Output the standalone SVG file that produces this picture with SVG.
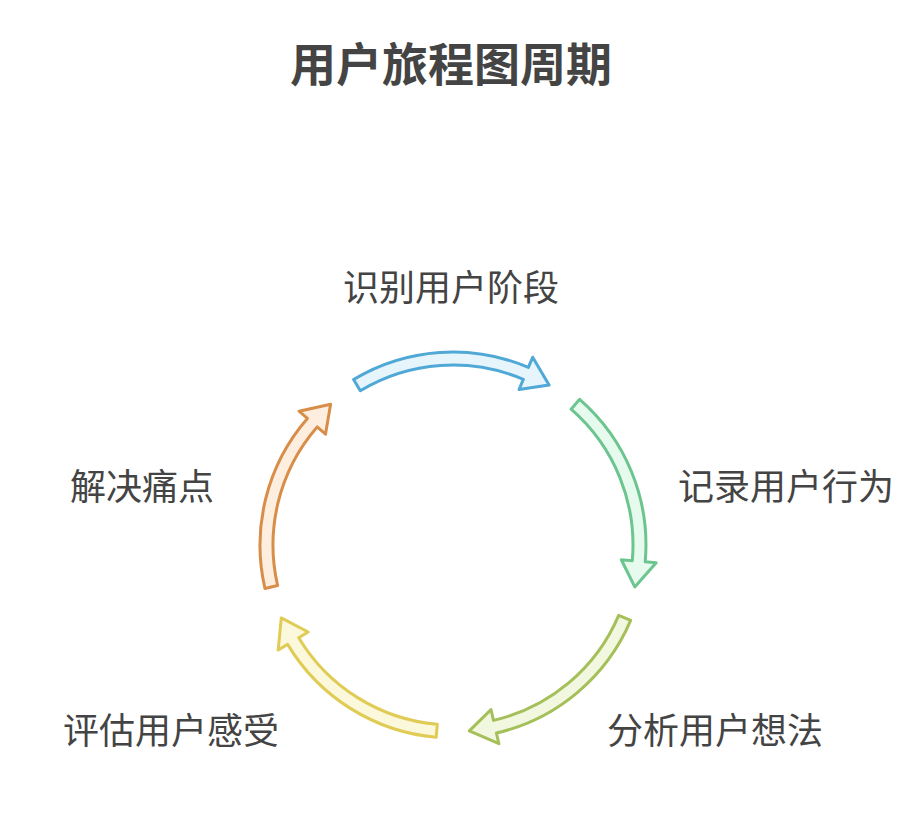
<svg xmlns="http://www.w3.org/2000/svg" width="914" height="834" viewBox="0 0 914 834">
<style>
text{font-family:"Noto Sans CJK SC","Noto Sans",sans-serif;fill:#444}
.l{font-size:36px}
.a{stroke-width:3;stroke-linejoin:round}
</style>
<defs>
<path id="arr" d="M193,0 A193,193 0 0 1 113.4,156.1 L119.9,165.0 L87.6,164.7 L99.3,136.7 L105.8,145.6 A180,180 0 0 0 180,0 Z"/>
</defs>
<rect width="914" height="834" fill="#fff"/>
<text x="451" y="81" text-anchor="middle" font-size="46" font-weight="bold">用户旅程图周期</text>
<g id="connectors">
<use href="#arr" class="a" transform="translate(453,545) rotate(-121)" fill="#e6f5fc" stroke="#4fa8d5"/>
<use href="#arr" class="a" transform="translate(453,545) rotate(-49)" fill="#e6faee" stroke="#6cc58f"/>
<use href="#arr" class="a" transform="translate(453,545) rotate(23)" fill="#f2f8df" stroke="#a5c05a"/>
<use href="#arr" class="a" transform="translate(453,545) rotate(95)" fill="#fbf8dc" stroke="#e0cc55"/>
<use href="#arr" class="a" transform="translate(453,545) rotate(167)" fill="#fdeee0" stroke="#d88e48"/>
</g>
<g id="n1"><text class="l" x="451" y="301" text-anchor="middle">识别用户阶段</text></g>
<g id="n2"><text class="l" x="678" y="500">记录用户行为</text></g>
<g id="n3"><text class="l" x="607" y="744">分析用户想法</text></g>
<g id="n4"><text class="l" x="63" y="744">评估用户感受</text></g>
<g id="n5"><text class="l" x="70" y="500">解决痛点</text></g>
</svg>
